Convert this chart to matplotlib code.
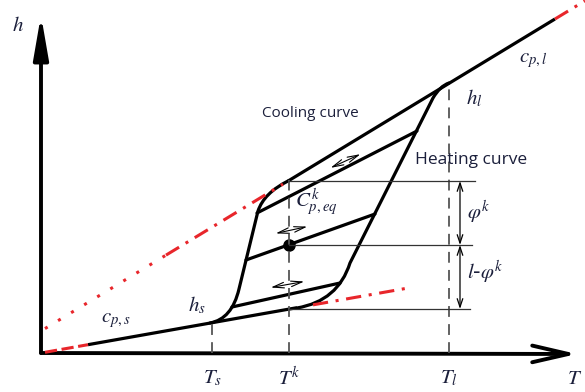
import numpy as np
import matplotlib.pyplot as plt
from matplotlib.path import Path
from matplotlib.patches import PathPatch, FancyArrowPatch

plt.rcParams['mathtext.fontset'] = 'stix'

# enthalpy of pure phases, h = c * T + h0
c_s, h0_s = 0.177, 0.0
c_l, h0_l = 0.607, 22.0

# characteristic temperatures and the current state
T_s, T_k, T_l = 171, 248, 408
h_k = 108

# black parts of the phase lines (T range)
solid_T = [47, 256]
liquid_T = [247, 514]

# red extensions of the phase lines (T ranges)
liquid_dashdot_T = [[125, 242], [514, 544]]
liquid_dotted_T = [4, 125]
solid_dashed_T = [4, 47]
solid_dashdot_T = [272, 367]

# outer hysteresis branches (bezier vertices in T, h)
cooling_pts = [(247, 172), (223, 160), (217, 142), (198, 64), (191, 34), (169, 30)]
heating_pts = [(256, 45), (297, 52), (309, 90), (392, 255), (399, 267), (408, 270)]
branch_codes = [Path.MOVETO, Path.CURVE3, Path.CURVE3, Path.LINETO, Path.CURVE3, Path.CURVE3]

# inner scanning lines between the branches
scan_T = [(216, 376), (205, 334), (191, 299)]
scan_h = [(140, 222), (93, 139), (46, 70)]

# small two-way arrows along the scanning lines
swing_T = [(287, 322), (232, 269), (227, 266)]
swing_h = [(184, 200), (119, 127), (65, 72)]

# fraction markers on the right
frac_h = [172, h_k, 44]
frac_T_end = [434, 431, 429]
frac_T_arrow = 419

fig = plt.figure(figsize=(5.85, 3.92), dpi=100)
ax = fig.add_axes([0, 0, 1, 1])
ax.set_xlim(-41, 544)
ax.set_ylim(-39, 353)
ax.axis('off')

red = '#e8262b'
ink = '#1b1f3b'
lw_main = 2.3


def solid_h(T):
    return c_s * np.asarray(T) + h0_s


def liquid_h(T):
    return c_l * np.asarray(T) + h0_l


# axes with arrows
ax.add_patch(FancyArrowPatch((0, 0), (0, 338), arrowstyle='-|>,head_length=26,head_width=4.5',
                             mutation_scale=1, lw=2.8, color='black', shrinkA=0, shrinkB=0))
ax.add_patch(FancyArrowPatch((0, 0), (536, -1), arrowstyle='->,head_length=26,head_width=6',
                             mutation_scale=1, lw=2.8, color='black', shrinkA=0, shrinkB=0))

# phase lines
ax.plot(solid_T, solid_h(solid_T), color='black', lw=lw_main, solid_capstyle='butt')
ax.plot(liquid_T, liquid_h(liquid_T), color='black', lw=lw_main, solid_capstyle='butt')

for seg in liquid_dashdot_T:
    ax.plot(seg, liquid_h(seg), color=red, lw=2.2, dashes=(5, 2.5, 1, 2.5))
ax.plot(liquid_dotted_T, liquid_h(liquid_dotted_T), color=red, lw=2.2, dashes=(1, 4))
ax.plot(solid_dashed_T, solid_h(solid_dashed_T), color=red, lw=2.2, dashes=(4, 1.5))
ax.plot(solid_dashdot_T, solid_h(solid_dashdot_T), color=red, lw=2.2, dashes=(5, 2.5, 1, 2.5))

# hysteresis branches
for pts in (cooling_pts, heating_pts):
    ax.add_patch(PathPatch(Path(pts, branch_codes), fill=False, lw=lw_main,
                           ec='black', capstyle='round', joinstyle='round'))

for Ts, hs in zip(scan_T, scan_h):
    ax.plot(Ts, hs, color='black', lw=lw_main, solid_capstyle='round')

for Ts, hs in zip(swing_T, swing_h):
    ax.add_patch(FancyArrowPatch((Ts[0], hs[0]), (Ts[1], hs[1]),
                                 arrowstyle='<->,head_length=8,head_width=2',
                                 mutation_scale=1, lw=0.8, color='black'))

ax.plot([T_k], [h_k], 'o', color='black', ms=8)

# guide lines
dash = dict(color='#555555', lw=1.3, dashes=(6, 4))
ax.plot([T_k, T_k], [0, liquid_h(T_k)], **dash)
ax.plot([T_s, T_s], [0, solid_h(T_s)], **dash)
ax.plot([T_l, T_l], [0, liquid_h(T_l)], **dash)

for h, Te in zip(frac_h, frac_T_end):
    ax.plot([T_k, Te], [h, h], color='#333333', lw=0.9)

for h0, h1 in zip(frac_h[:-1], frac_h[1:]):
    ax.add_patch(FancyArrowPatch((frac_T_arrow, h0), (frac_T_arrow, h1),
                                 arrowstyle='<->,head_length=6,head_width=2',
                                 mutation_scale=1, lw=0.9, color='black',
                                 shrinkA=0, shrinkB=0))

# labels
mfs = 15
ax.text(-23, 328, r'$h$', fontsize=mfs, color=ink, ha='center', va='center')
ax.text(534, -25, r'$T$', fontsize=mfs, color=ink, ha='center', va='center')
ax.text(T_s, -25, r'$T_s$', fontsize=mfs, color=ink, ha='center', va='center')
ax.text(T_k, -25, r'$T^k$', fontsize=mfs, color=ink, ha='center', va='center')
ax.text(T_l, -25, r'$T_l$', fontsize=mfs, color=ink, ha='center', va='center')
ax.text(433, 255, r'$h_l$', fontsize=mfs, color=ink, ha='center', va='center')
ax.text(492, 293, r'$c_{p,l}$', fontsize=mfs, color=ink, ha='center', va='center')
ax.text(156, 48, r'$h_s$', fontsize=mfs, color=ink, ha='center', va='center')
ax.text(75, 33, r'$c_{p,s}$', fontsize=mfs, color=ink, ha='center', va='center')
ax.text(275, 151, r'$C^k_{p,eq}$', fontsize=mfs, color=ink, ha='center', va='center')
ax.text(426, 141, r'$\varphi^k$', fontsize=mfs, color=ink, ha='left', va='center')
ax.text(426, 81, r'$l$-$\varphi^k$', fontsize=mfs, color=ink, ha='left', va='center')

ax.text(221, 240, 'Cooling curve', fontsize=11, family='Open Sans', color=ink,
        ha='left', va='center')
ax.text(374, 193, 'Heating curve', fontsize=12.5, family='Open Sans', color=ink,
        ha='left', va='center')

fig.savefig('out.png', dpi=100)
